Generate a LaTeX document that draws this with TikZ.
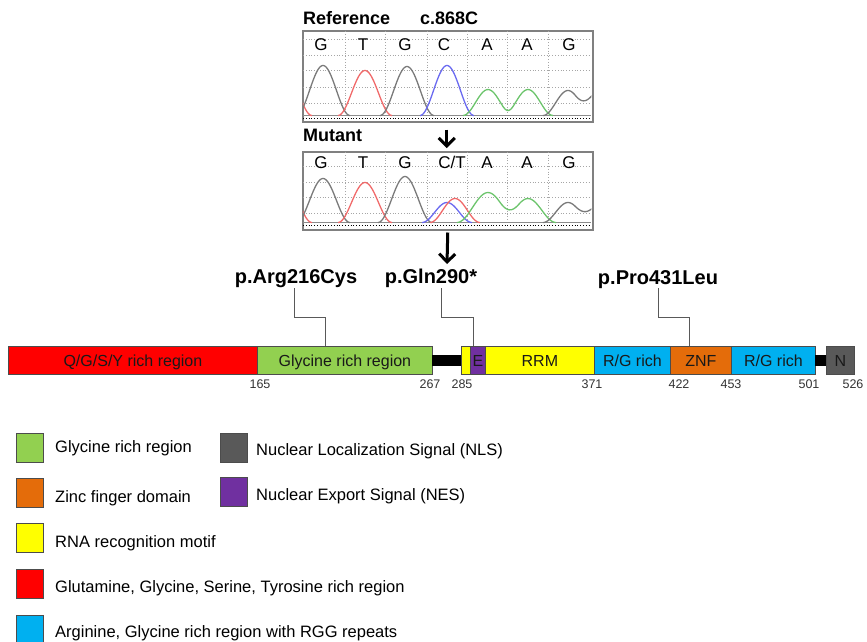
\documentclass[tikz,border=0pt]{standalone}
\usepackage{fontspec}
\setmainfont{Liberation Sans}
\usetikzlibrary{arrows.meta,calc}
\definecolor{cRed}{HTML}{FF0000}
\definecolor{cGreen}{HTML}{92D050}
\definecolor{cYellow}{HTML}{FFFF00}
\definecolor{cPurple}{HTML}{7030A0}
\definecolor{cBlue}{HTML}{00B0F0}
\definecolor{cOrange}{HTML}{E46C0A}
\definecolor{cNls}{HTML}{595959}
\definecolor{pkRed}{HTML}{F06A6A}
\definecolor{pkBlue}{HTML}{6A6AF0}
\definecolor{pkGreen}{HTML}{6CC46C}
\definecolor{pkGray}{HTML}{7A7A7A}
\newcommand\fsz[1]{\fontsize{#1}{#1}\selectfont}
% cosine bump: centre, height, half-width
\newcommand\cb[3]{#2*(1+cos(180*min(1,abs(\x-#1)/#3)))/2}
\begin{document}
\begin{tikzpicture}[x=1pt,y=-1pt,
  dom/.style={draw=black!70, line width=0.8pt, inner sep=0pt, minimum height=28pt, text height=11.5pt, text depth=0pt, font=\fsz{16}, text=black!90, anchor=north west},
  linker/.style={fill=black, inner sep=0pt, minimum height=11pt, anchor=west},
  posnum/.style={inner sep=0pt, anchor=base, font=\fsz{12.5}, text=black!80},
  mutlbl/.style={inner sep=0pt, anchor=base, font=\bfseries\fsz{20}},
  leader/.style={draw=black!65, line width=1pt},
  chrom/.style={draw=black!50, line width=1.5pt, inner sep=0pt, anchor=north west},
  gridln/.style={black!35, dotted, line width=0.8pt},
  nuc/.style={inner sep=0pt, anchor=base, font=\fsz{17}},
  pk/.style={line width=1.3pt, smooth, samples=50},
  bigarrow/.style={line width=3pt, -{Straight Barb[length=8pt,width=16pt]}},
  legbox/.style={draw=black!70, line width=1pt, minimum width=27pt, minimum height=29pt, inner sep=0pt, anchor=north west},
  legtxt/.style={inner sep=0pt, anchor=base west, font=\fsz{16.5}},
  headlbl/.style={inner sep=0pt, anchor=base west, font=\bfseries\fsz{18}}]
\useasboundingbox (0,0) rectangle (867,641);

% ---------- chromatograms ----------
\node[headlbl] (reflab) at (303,24) {Reference};
\node[headlbl] (poslab) at (420,24) {c.868C};
\node[chrom, minimum width=290pt, minimum height=91pt] (refbox) at (302,30) {};
\node[headlbl] (mutlab) at (303,141) {Mutant};
\node[chrom, minimum width=290pt, minimum height=78pt] (mutbox) at (302,151) {};

% grids
\foreach \gx in {345,385,427,467,507,548} {
  \draw[gridln] (\gx,31) -- (\gx,115);
  \draw[gridln] (\gx,152) -- (\gx,222);
}
\foreach \gy in {39,55,70,87,103} \draw[gridln] (303,\gy) -- (591,\gy);
\foreach \gy in {166,182,197,213} \draw[gridln] (303,\gy) -- (591,\gy);
\draw[black!45, line width=1pt] (303,115.5) -- (591,115.5);
\draw[black, dotted, line width=0.8pt] (303,118.3) -- (591,118.3);
\draw[black!45, line width=1pt] (303,222.5) -- (591,222.5);
\draw[black, dotted, line width=0.8pt] (303,225.5) -- (591,225.5);

% letters
\node[nuc] (r1) at (321,50) {G};
\node[nuc] (r2) at (363,50) {T};
\node[nuc] (r3) at (405,50) {G};
\node[nuc] (r4) at (444,50) {C};
\node[nuc] (r5) at (487,50) {A};
\node[nuc] (r6) at (527,50) {A};
\node[nuc] (r7) at (569,50) {G};
\node[nuc] (m1) at (321,168) {G};
\node[nuc] (m2) at (363,168) {T};
\node[nuc] (m3) at (405,168) {G};
\node[nuc] (m4) at (452,168) {C/T};
\node[nuc] (m5) at (487,168) {A};
\node[nuc] (m6) at (527,168) {A};
\node[nuc] (m7) at (569,168) {G};

% peaks reference
\begin{scope}
\clip (302.75,30.75) rectangle (591.25,120);
\draw[pk, pkRed]  plot[domain=300:312] (\x,{115.5-\cb{285}{46}{27}});
\draw[pk, pkGray] plot[domain=300:350] (\x,{115.5-\cb{323}{50}{27}});
\draw[pk, pkRed]  plot[domain=338:392] (\x,{115.5-\cb{365}{45}{27}});
\draw[pk, pkGray] plot[domain=380:434] (\x,{115.5-\cb{407}{49}{27}});
\draw[pk, pkBlue] plot[domain=420:474] (\x,{115.5-\cb{447}{50}{27}});
\draw[pk, pkGreen] plot[domain=463:553] (\x,{115.5-\cb{488}{26}{25}-\cb{528}{26}{25}});
\draw[pk, pkGray] plot[domain=543:594] (\x,{115.5-\cb{568}{25}{25}-\cb{600}{26}{25}});
\end{scope}
% peaks mutant
\begin{scope}
\clip (302.75,151.75) rectangle (591.25,228);
\draw[pk, pkRed]  plot[domain=300:312] (\x,{222.5-\cb{285}{42}{27}});
\draw[pk, pkGray] plot[domain=300:350] (\x,{222.5-\cb{323}{44}{27}});
\draw[pk, pkRed]  plot[domain=338:392] (\x,{222.5-\cb{365}{40}{27}});
\draw[pk, pkGray] plot[domain=378:432] (\x,{222.5-\cb{405}{46}{27}});
\draw[pk, pkBlue] plot[domain=422:472] (\x,{222.5-\cb{447}{20}{25}});
\draw[pk, pkRed]  plot[domain=430:480] (\x,{222.5-\cb{455}{24}{25}});
\draw[pk, pkGreen] plot[domain=457:556] (\x,{222.5-\cb{488}{30}{31}-\cb{528}{24}{28}});
\draw[pk, pkGray] plot[domain=543:594] (\x,{222.5-\cb{568}{20}{25}-\cb{600}{18}{25}});
\end{scope}

% arrows
\coordinate (arrEnd) at (447,264);
\draw[bigarrow] ($(refbox.south)+(-1,7)$) -- ($(mutbox.north)+(-1,-3)$);
\draw[bigarrow] ($(mutbox.south)+(0,2)$) -- (arrEnd);

% ---------- protein bar ----------
\node[dom, fill=cRed, minimum width=249pt] (qgsy) at (8,346) {Q/G/S/Y rich region};
\node[dom, fill=cGreen, minimum width=175pt] (gly) at (257,346) {Glycine rich region};
\node[linker, minimum width=29pt] (lk1) at (432,360.5) {};
\node[dom, fill=cYellow, minimum width=9pt] (yel1) at (461,346) {};
\node[dom, fill=cPurple, minimum width=15pt] (nes) at (470,346) {E};
\node[dom, fill=cYellow, minimum width=109pt] (rrm) at (485,346) {RRM};
\node[dom, fill=cBlue, minimum width=76pt] (rg1) at (594,346) {R/G rich};
\node[dom, fill=cOrange, minimum width=61pt] (znf) at (670,346) {ZNF};
\node[dom, fill=cBlue, minimum width=84pt] (rg2) at (731,346) {R/G rich};
\node[linker, minimum width=11pt] (lk2) at (815,360.5) {};
\node[dom, fill=cNls, minimum width=28pt] (nls) at (826,346) {N};

% positions
\node[posnum] (n165) at (260,388) {165};
\node[posnum] (n267) at (430,388) {267};
\node[posnum] (n285) at (462,388) {285};
\node[posnum] (n371) at (592,388) {371};
\node[posnum] (n422) at (679,388) {422};
\node[posnum] (n453) at (731,388) {453};
\node[posnum] (n501) at (809,388) {501};
\node[posnum] (n526) at (853,388) {526};

% mutations
\node[mutlbl] (labA) at (296,283) {p.Arg216Cys};
\node[mutlbl] (labB) at (431,283) {p.Gln290*};
\node[mutlbl] (labC) at (658,284) {p.Pro431Leu};
\coordinate (tA) at (294,288);
\coordinate (tB) at (441,288);
\coordinate (tC) at (658,288);
\coordinate (mA) at (325,346);
\coordinate (mB) at (473,346);
\coordinate (mC) at (689,346);
\draw[leader] (tA) -- ++(0,29) -| (mA);
\draw[leader] (tB) -- ++(0,29) -| (mB);
\draw[leader] (tC) -- ++(0,29) -| (mC);

% ---------- legend ----------
\node[legbox, fill=cGreen] (lg1) at (16,433) {};
\node[legbox, fill=cOrange] (lg2) at (16,478) {};
\node[legbox, fill=cYellow] (lg3) at (16,523) {};
\node[legbox, fill=cRed] (lg4) at (16,569) {};
\node[legbox, fill=cBlue] (lg5) at (16,615) {};
\node[legbox, fill=cNls] (lg6) at (220,433) {};
\node[legbox, fill=cPurple] (lg7) at (220,477) {};
\node[legtxt] (lt1) at (55,452) {Glycine rich region};
\node[legtxt] (lt2) at (55,502) {Zinc finger domain};
\node[legtxt] (lt3) at (55,547) {RNA recognition motif};
\node[legtxt] (lt4) at (55,592) {Glutamine, Glycine, Serine, Tyrosine rich region};
\node[legtxt] (lt5) at (55,637) {Arginine, Glycine rich region with RGG repeats};
\node[legtxt] (lt6) at (256,455) {Nuclear Localization Signal (NLS)};
\node[legtxt] (lt7) at (256,500) {Nuclear Export Signal (NES)};
\end{tikzpicture}
\end{document}
